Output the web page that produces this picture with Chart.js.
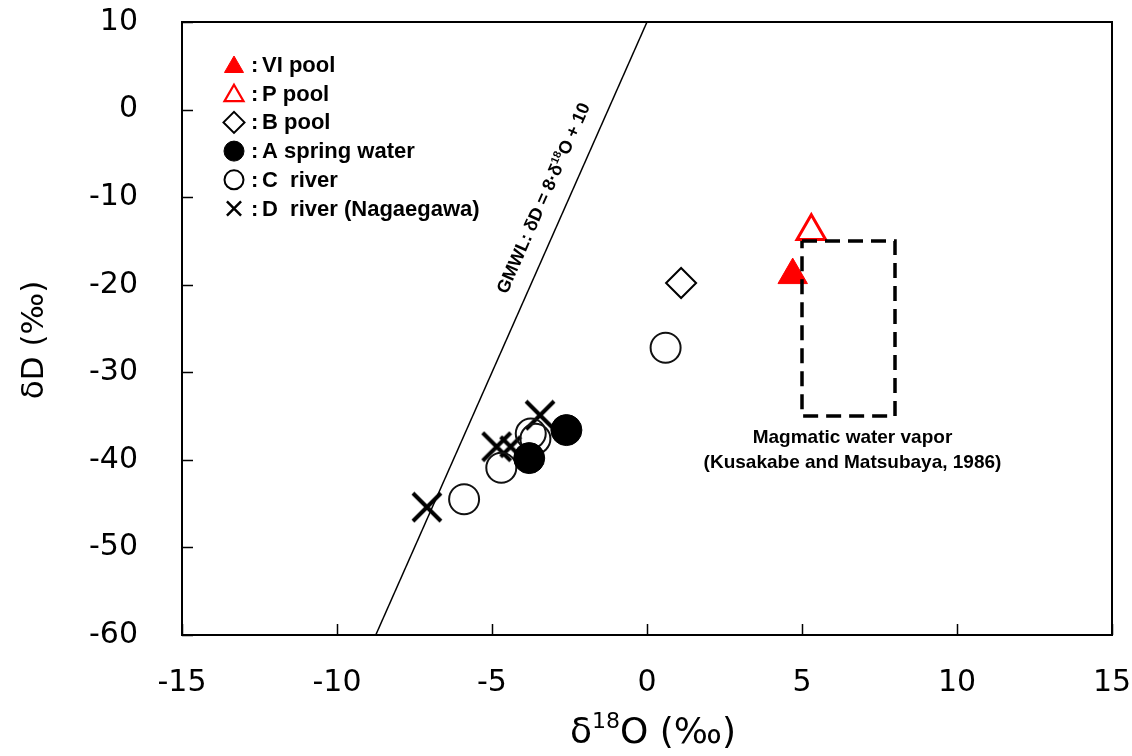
<!DOCTYPE html>
<html>
<head>
<meta charset="utf-8">
<script src="https://cdn.jsdelivr.net/npm/chart.js@4.4.0/dist/chart.umd.min.js"></script>
<style>
  html, body { margin: 0; padding: 0; background: #fff; }
  #wrap { width: 1132px; height: 756px; position: relative; }
</style>
</head>
<body>
<div id="wrap"><canvas id="c" width="1132" height="756"></canvas></div>
<script>
// ---- data ----
const viPoolX = [4.7];
const viPoolY = [-18.9];
const pPoolX = [5.3];
const pPoolY = [-13.9];
const bPoolX = [1.1];
const bPoolY = [-19.8];
const aSpringX = [-2.6, -3.8];
const aSpringY = [-36.6, -39.8];
const cRiverX = [0.6, -5.9, -4.7, -3.75, -3.6];
const cRiverY = [-27.2, -44.5, -40.9, -37.0, -37.6];
const dRiverX = [-7.1, -4.85, -4.4, -3.45];
const dRiverY = [-45.4, -38.5, -38.5, -34.9];
const gmwlX = [-8.75, 0];
const gmwlY = [-60, 10];
const magmaBoxX = [5, 8, 8, 5, 5];
const magmaBoxY = [-15, -15, -35, -35, -15];
const xTicks = [-15, -10, -5, 0, 5, 10, 15];
const yTicks = [10, 0, -10, -20, -30, -40, -50, -60];

const legendItems = [
  { label: 'VI pool', style: 'triangle', fill: '#ff0000', stroke: '#ff0000', r: 11, bw: 1 },
  { label: 'P pool', style: 'triangle', fill: 'rgba(0,0,0,0)', stroke: '#ff0000', r: 11, bw: 2.2 },
  { label: 'B pool', style: 'rectRot', fill: 'rgba(0,0,0,0)', stroke: '#000', r: 10.5, bw: 2 },
  { label: 'A spring water', style: 'circle', fill: '#000', stroke: '#000', r: 10, bw: 1 },
  { label: 'C  river', style: 'circle', fill: 'rgba(0,0,0,0)', stroke: '#000', r: 9.5, bw: 2 },
  { label: 'D  river (Nagaegawa)', style: 'crossRot', fill: '#000', stroke: '#000', r: 10, bw: 2.5 }
];

const pts = (xs, ys) => xs.map((x, i) => ({ x: x, y: ys[i] }));

// X-shaped marker image (so the marker can be large without widening chart padding)
function makeX(size, lw) {
  const c = document.createElement('canvas');
  const s = size + lw;
  c.width = s; c.height = s;
  const g = c.getContext('2d');
  g.strokeStyle = '#000';
  g.lineWidth = lw;
  g.lineCap = 'butt';
  const o = lw / 2;
  g.beginPath();
  g.moveTo(o, o); g.lineTo(s - o, s - o);
  g.moveTo(s - o, o); g.lineTo(o, s - o);
  g.stroke();
  return c;
}
const bigX = makeX(28, 4);
const smallX = makeX(20, 4);

// draw a run of [text, isSuperscript] parts centered at (0,0) horizontally
function drawRich(ctx, parts, bigFont, smallFont, cx, baseline, supShift) {
  let total = 0;
  const widths = parts.map(([t, sup]) => { ctx.font = sup ? smallFont : bigFont; const w = ctx.measureText(t).width; total += w; return w; });
  let px = cx - total / 2;
  ctx.textAlign = 'left';
  parts.forEach(([t, sup], i) => {
    ctx.font = sup ? smallFont : bigFont;
    ctx.fillText(t, px, sup ? baseline - supShift : baseline);
    px += widths[i];
  });
}

const decorPlugin = {
  id: 'decor',
  beforeDatasetsDraw(chart) {
    const { ctx, chartArea: a, scales: { x, y } } = chart;
    ctx.save();
    ctx.strokeStyle = '#000';
    ctx.lineWidth = 2;
    ctx.strokeRect(a.left, a.top, a.right - a.left, a.bottom - a.top);
    ctx.lineWidth = 1.5;
    ctx.beginPath();
    yTicks.forEach(v => {
      const py = Math.round(y.getPixelForValue(v)) + 0.5;
      ctx.moveTo(a.left, py); ctx.lineTo(a.left + 11, py);
    });
    xTicks.forEach(v => {
      const px = Math.round(x.getPixelForValue(v)) + 0.5;
      ctx.moveTo(px, a.bottom); ctx.lineTo(px, a.bottom - 11);
    });
    ctx.stroke();

    // axis titles
    ctx.fillStyle = '#000';
    ctx.textBaseline = 'alphabetic';
    drawRich(ctx, [['δ', false], ['18', true], ['O (‰)', false]], '36px "DejaVu Sans"', '22px "DejaVu Sans"', 653, 743, 15);
    ctx.save();
    ctx.translate(35, 340);
    ctx.rotate(-Math.PI / 2);
    ctx.font = '31px "DejaVu Sans"';
    ctx.textAlign = 'center';
    ctx.textBaseline = 'middle';
    ctx.fillText('δD (‰)', 0, 0);
    ctx.restore();
    ctx.restore();
  },
  afterDatasetsDraw(chart) {
    const { ctx, scales: { x, y } } = chart;
    ctx.save();
    const lx = 234, ly0 = 65, dy = 28.7;
    legendItems.forEach((it, i) => {
      const yy = ly0 + i * dy;
      ctx.fillStyle = it.fill;
      ctx.strokeStyle = it.stroke;
      ctx.lineWidth = it.bw;
      Chart.helpers.drawPoint(ctx, { pointStyle: it.style, radius: it.r, rotation: 0, borderWidth: it.bw }, lx, it.style === 'triangle' ? yy + 2 : yy);
      ctx.fillStyle = '#000';
      ctx.font = 'bold 22px "Liberation Sans", Arial, sans-serif';
      ctx.textBaseline = 'middle';
      ctx.textAlign = 'left';
      ctx.fillText(':', 251, yy + 1);
      ctx.fillText(it.label, 262, yy + 1);
    });
    ctx.font = 'bold 19px "Liberation Sans", Arial, sans-serif';
    ctx.textAlign = 'center';
    ctx.textBaseline = 'alphabetic';
    ctx.fillStyle = '#000';
    const cx = x.getPixelForValue(6.5);
    ctx.fillText('Magmatic water vapor', cx + 4, 443);
    ctx.fillText('(Kusakabe and Matsubaya, 1986)', cx + 4, 468);
    // GMWL label along the line
    const x1 = x.getPixelForValue(gmwlX[0]), y1 = y.getPixelForValue(gmwlY[0]);
    const x2 = x.getPixelForValue(gmwlX[1]), y2 = y.getPixelForValue(gmwlY[1]);
    const ang = Math.atan2(y2 - y1, x2 - x1);
    const my = 198;
    const t = (my - y1) / (y2 - y1);
    const mx = x1 + t * (x2 - x1);
    ctx.translate(mx - 26, my);
    ctx.rotate(ang);
    ctx.textBaseline = 'alphabetic';
    drawRich(ctx, [['GMWL: δD = 8·δ', false], ['18', true], ['O + 10', false]],
      'bold 18px "Liberation Sans", Arial, sans-serif', 'bold 11px "Liberation Sans", Arial, sans-serif', 0, 6, 7);
    ctx.restore();
  }
};

new Chart(document.getElementById('c'), {
  type: 'scatter',
  data: {
    datasets: [
      { label: 'Magmatic box', type: 'line', data: pts(magmaBoxX, magmaBoxY), borderColor: '#000', borderWidth: 3.5, borderDash: [15, 8], pointRadius: 0, fill: false, tension: 0, order: 0 },
      { label: 'VI pool', data: pts(viPoolX, viPoolY), pointStyle: 'triangle', pointRadius: 17, backgroundColor: '#ff0000', borderColor: '#ff0000', borderWidth: 1, order: 1 },
      { label: 'P pool', data: pts(pPoolX, pPoolY), pointStyle: 'triangle', pointRadius: 16.5, backgroundColor: 'rgba(255,255,255,0)', borderColor: '#ff0000', borderWidth: 3, order: 2 },
      { label: 'B pool', data: pts(bPoolX, bPoolY), pointStyle: 'rectRot', pointRadius: 15, backgroundColor: 'rgba(255,255,255,0)', borderColor: '#000', borderWidth: 2, order: 3 },
      { label: 'A spring water', data: pts(aSpringX, aSpringY), pointStyle: 'circle', pointRadius: 15.5, backgroundColor: '#000', borderColor: '#000', borderWidth: 1, order: 4 },
      { label: 'C river', data: pts(cRiverX, cRiverY), pointStyle: 'circle', pointRadius: 15, backgroundColor: 'rgba(255,255,255,0)', borderColor: '#111', borderWidth: 2, order: 5 },
      { label: 'D river', data: pts(dRiverX, dRiverY), pointStyle: [bigX, bigX, smallX, bigX], pointRadius: 12, borderWidth: 1, backgroundColor: '#000', borderColor: '#000', order: 6 },
      { label: 'GMWL', type: 'line', data: pts(gmwlX, gmwlY), borderColor: '#000', borderWidth: 1.5, pointRadius: 0, fill: false, tension: 0, order: 7 }
    ]
  },
  options: {
    responsive: false,
    animation: false,
    layout: { padding: { left: 0, top: 22, right: 20, bottom: 0 } },
    plugins: { legend: { display: false }, tooltip: { enabled: false } },
    elements: { point: { hoverRadius: 12 } },
    scales: {
      x: {
        type: 'linear', min: -15, max: 15,
        afterFit(s) { s.height = 121; s.paddingLeft = 0; s.paddingRight = 0; },
        afterBuildTicks(s) { s.ticks = xTicks.map(v => ({ value: v })); },
        grid: { display: false }, border: { display: false },
        ticks: { color: '#000', padding: 22, font: { family: '"DejaVu Sans"', size: 30 }, maxRotation: 0 },
        title: { display: false }
      },
      y: {
        type: 'linear', min: -60, max: 10,
        afterFit(s) { s.width = 182; s.paddingTop = 0; s.paddingBottom = 0; },
        afterBuildTicks(s) { s.ticks = yTicks.map(v => ({ value: v })); },
        grid: { display: false }, border: { display: false },
        ticks: { color: '#000', padding: 36, font: { family: '"DejaVu Sans"', size: 30 } },
        title: { display: false }
      }
    }
  },
  plugins: [decorPlugin]
});
</script>
</body>
</html>
